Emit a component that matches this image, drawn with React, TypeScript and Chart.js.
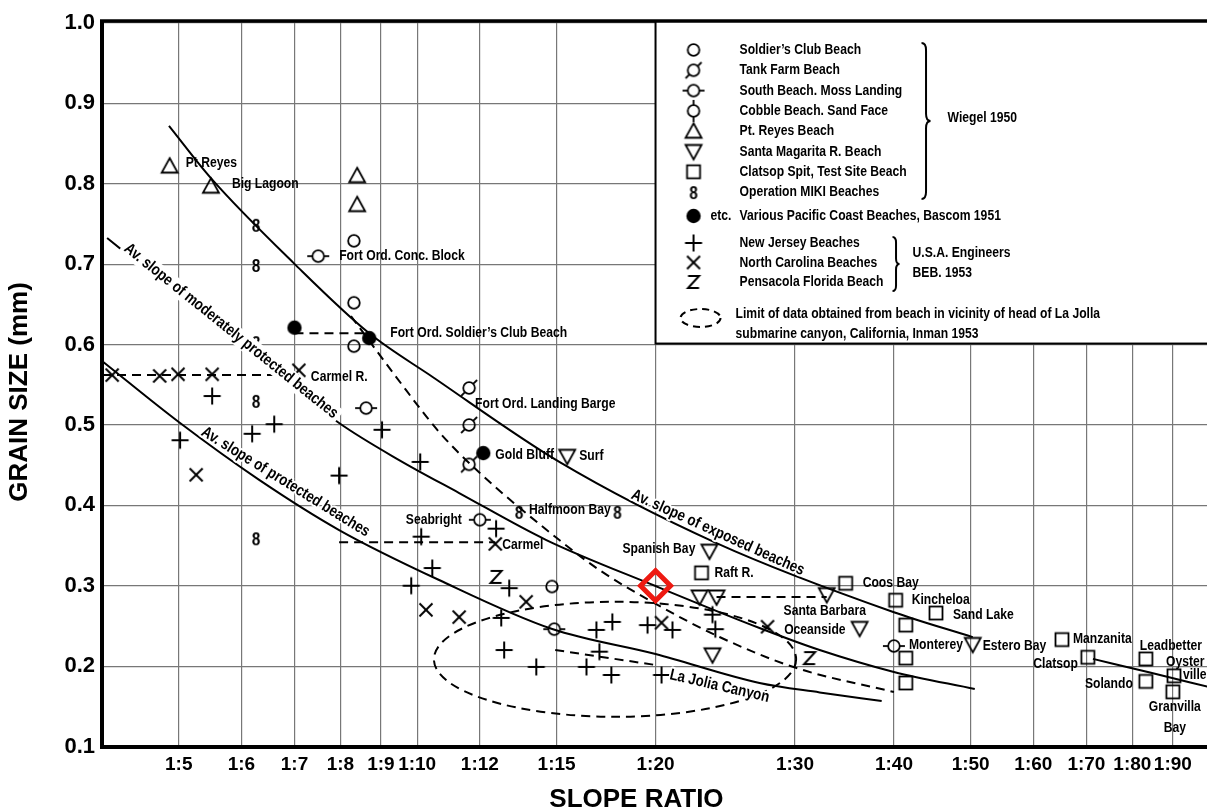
import { useEffect, useRef } from "react";
import { Chart, registerables } from "chart.js";

Chart.register(...registerables);

type Pt = [number, number];

// Axis ticks: slope ratio 1:n (log scale) and grain size in mm
const slopeTicks = [5, 6, 7, 8, 9, 10, 12, 15, 20, 30, 40, 50, 60, 70, 80, 90];
const grainTicks = [0.1, 0.2, 0.3, 0.4, 0.5, 0.6, 0.7, 0.8, 0.9, 1.0];

// Wiegel 1950
const soldiersClub: Pt[] = [[8.32, 0.729], [8.32, 0.652], [8.32, 0.598], [14.8, 0.299]];
const tankFarm: Pt[] = [[11.63, 0.546], [11.63, 0.5], [11.63, 0.451]];
const southBeach: Pt[] = [[7.5, 0.71], [8.62, 0.521], [12.0, 0.382], [14.9, 0.246], [40.0, 0.225]];
const ptReyes: Pt[] = [[4.87, 0.822], [5.49, 0.797], [8.4, 0.81], [8.4, 0.774]];
const santaMagarita: Pt[] = [
  [15.47, 0.461], [23.39, 0.343], [22.73, 0.286], [23.88, 0.286], [23.6, 0.214],
  [32.9, 0.289], [36.2, 0.247], [50.3, 0.227],
];
const clatsopSpit: Pt[] = [
  [22.86, 0.316], [34.76, 0.303], [40.2, 0.282], [45.2, 0.266], [41.4, 0.251], [41.4, 0.21],
  [41.4, 0.179], [65.2, 0.233], [70.3, 0.211], [83.2, 0.209], [83.2, 0.181], [90.3, 0.188], [90.0, 0.168],
];
const operationMiki: Pt[] = [[6.26, 0.749], [6.26, 0.699], [6.26, 0.603], [6.26, 0.53], [6.26, 0.359], [13.45, 0.392], [17.9, 0.392]];

// Bascom 1951
const bascom: Pt[] = [[7.0, 0.621], [8.7, 0.608], [12.12, 0.465]];

// U.S.A. Engineers, BEB 1953
const newJersey: Pt[] = [
  [5.51, 0.536], [6.6, 0.501], [6.19, 0.489], [5.02, 0.481], [9.03, 0.494], [10.09, 0.454], [7.97, 0.437],
  [10.12, 0.361], [10.45, 0.322], [9.83, 0.3], [12.58, 0.371], [13.07, 0.297], [12.77, 0.26], [12.88, 0.22],
  [14.14, 0.199], [16.84, 0.245], [17.64, 0.255], [19.54, 0.251], [21.01, 0.245], [16.99, 0.218], [16.36, 0.199],
  [17.59, 0.189], [20.35, 0.189], [23.6, 0.264], [23.8, 0.246],
];
const northCarolina: Pt[] = [
  [4.12, 0.562], [4.73, 0.561], [4.99, 0.563], [5.51, 0.563], [7.09, 0.568], [5.26, 0.438],
  [10.26, 0.27], [11.3, 0.261], [13.73, 0.28], [12.55, 0.352], [20.35, 0.254], [27.7, 0.249],
];
const pensacola: Pt[] = [[12.58, 0.311], [31.3, 0.21]];

// Average-slope curves
const exposedCurve: Pt[] = [
  [4.86, 0.872], [5.49, 0.807], [6.99, 0.701], [8.7, 0.614], [10.45, 0.56], [15.12, 0.454],
  [23.88, 0.353], [40.0, 0.267], [50.3, 0.236],
];
const exposedCurveTail: Pt[] = [[71.35, 0.209], [84.2, 0.192], [100, 0.174]];
const moderateCurve: Pt[] = [
  [4.06, 0.7325], [5.62, 0.6205], [7.97, 0.5024], [9.49, 0.4563], [11.3, 0.4153], [14.56, 0.3568],
  [20, 0.2996], [27.06, 0.2474], [32.23, 0.22], [40, 0.1927], [50.6, 0.1715],
];
const protectedCurve: Pt[] = [
  [4.0, 0.5795], [5.0, 0.5036], [6.31, 0.432], [7.97, 0.3693], [10.66, 0.3071], [14.81, 0.2461],
  [20, 0.215], [27.06, 0.179], [32.23, 0.1673], [38.6, 0.1566],
];
const soldiersClubTrend: Pt[] = [
  [8.25, 0.6354], [9.41, 0.5596], [10.66, 0.4912], [12.0, 0.4402], [15.12, 0.3568], [16.99, 0.3195],
  [19.82, 0.2797], [24.09, 0.2362], [30.14, 0.1976], [40, 0.1678],
];
const canyonLead: Pt[] = [[14.94, 0.22], [20, 0.2014]];
const fortOrdLink: Pt[] = [[7.0, 0.614], [8.7, 0.614]];
const carmelRLink: Pt[] = [[4.0, 0.562], [7.09, 0.562]];
const carmelLink: Pt[] = [[7.97, 0.354], [12.55, 0.354]];
const santaBarbaraLink: Pt[] = [[23.88, 0.286], [32.9, 0.286]];

// La Jolla limit of data (dashed ellipse): slope span and grain-size span
const laJollaLimitX = [10.5, 30.1];
const laJollaLimitY = [0.137, 0.28];

// Highlighted reading
const highlight: Pt = [20, 0.3];

type SiteLabel = { text: string; at: Pt; dx: number; dy: number; align: CanvasTextAlign };
const siteLabels: SiteLabel[] = [
  { text: "Pt Reyes", at: [4.87, 0.822], dx: 16, dy: -3, align: "left" },
  { text: "Big Lagoon", at: [5.49, 0.797], dx: 21, dy: -2, align: "left" },
  { text: "Fort Ord. Conc. Block", at: [7.5, 0.71], dx: 21, dy: 0, align: "left" },
  { text: "Fort Ord. Soldier\u2019s Club Beach", at: [8.7, 0.608], dx: 21, dy: -5, align: "left" },
  { text: "Carmel R.", at: [7.09, 0.568], dx: 12, dy: 7, align: "left" },
  { text: "Fort Ord. Landing Barge", at: [11.63, 0.546], dx: 6, dy: 16, align: "left" },
  { text: "Gold Bluff", at: [12.12, 0.465], dx: 12, dy: 2, align: "left" },
  { text: "Surf", at: [15.47, 0.461], dx: 12, dy: 0, align: "left" },
  { text: "Halfmoon Bay", at: [13.45, 0.392], dx: 10, dy: -2, align: "left" },
  { text: "Seabright", at: [12.0, 0.382], dx: -18, dy: 0, align: "right" },
  { text: "Carmel", at: [12.55, 0.352], dx: 7, dy: 1, align: "left" },
  { text: "Spanish Bay", at: [23.39, 0.343], dx: -14, dy: -2, align: "right" },
  { text: "Raft R.", at: [22.86, 0.316], dx: 13, dy: 0, align: "left" },
  { text: "Santa Barbara", at: [32.9, 0.289], dx: -2, dy: 16, align: "center" },
  { text: "Coos Bay", at: [34.76, 0.303], dx: 17, dy: 0, align: "left" },
  { text: "Kincheloa", at: [40.2, 0.282], dx: 16, dy: 0, align: "left" },
  { text: "Sand Lake", at: [45.2, 0.266], dx: 17, dy: 2, align: "left" },
  { text: "Oceanside", at: [36.2, 0.247], dx: -14, dy: 2, align: "right" },
  { text: "Monterey", at: [40.0, 0.225], dx: 15, dy: -1, align: "left" },
  { text: "Estero Bay", at: [50.3, 0.227], dx: 10, dy: 1, align: "left" },
  { text: "Manzanita", at: [65.2, 0.233], dx: 11, dy: -1, align: "left" },
  { text: "Clatsop", at: [70.3, 0.211], dx: -10, dy: 7, align: "right" },
  { text: "Leadbetter", at: [83.2, 0.209], dx: -6, dy: -13, align: "left" },
  { text: "Solando", at: [83.2, 0.181], dx: -13, dy: 2, align: "right" },
  { text: "Oyster", at: [90.3, 0.188], dx: -8, dy: -14, align: "left" },
  { text: "ville", at: [90.3, 0.188], dx: 9, dy: -1, align: "left" },
  { text: "Granvilla", at: [90.0, 0.168], dx: 2, dy: 15, align: "center" },
  { text: "Bay", at: [90.0, 0.168], dx: 2, dy: 36, align: "center" },
];

type CurveLabel = { text: string; at: Pt; angle: number; backed: boolean };
const curveLabels: CurveLabel[] = [
  { text: "Av. slope of moderately protected beaches", at: [5.82, 0.6168], angle: 38.8, backed: true },
  { text: "Av. slope of protected beaches", at: [6.82, 0.429], angle: 31.7, backed: false },
  { text: "Av. slope of exposed beaches", at: [23.97, 0.366], angle: 24.3, backed: false },
  { text: "La Jolia Canyon", at: [24.09, 0.175], angle: 13, backed: false },
];

const wiegelRows: [string, string][] = [
  ["circle", "Soldier\u2019s Club Beach"],
  ["slashCircle", "Tank Farm Beach"],
  ["hCircle", "South Beach. Moss Landing"],
  ["vCircle", "Cobble Beach. Sand Face"],
  ["triUp", "Pt. Reyes Beach"],
  ["triDown", "Santa Magarita R. Beach"],
  ["square", "Clatsop Spit, Test Site Beach"],
  ["eight", "Operation MIKI Beaches"],
];
const engineerRows: [string, string][] = [
  ["plus", "New Jersey Beaches"],
  ["cross", "North Carolina Beaches"],
  ["zee", "Pensacola Florida Beach"],
];

const FONT = "'Liberation Sans', Arial, Helvetica, sans-serif";

function makeSymbol(kind: string): HTMLCanvasElement {
  const c = document.createElement("canvas");
  c.width = 30;
  c.height = 30;
  const g = c.getContext("2d")!;
  g.translate(15, 15);
  g.strokeStyle = "#000";
  g.fillStyle = "#000";
  g.lineWidth = 1.8;
  const ring = () => {
    g.beginPath();
    g.arc(0, 0, 5.8, 0, Math.PI * 2);
    g.stroke();
  };
  const seg = (x1: number, y1: number, x2: number, y2: number) => {
    g.beginPath();
    g.moveTo(x1, y1);
    g.lineTo(x2, y2);
    g.stroke();
  };
  switch (kind) {
    case "circle":
      ring();
      break;
    case "slashCircle":
      ring();
      seg(4.1, -4.1, 8, -8);
      seg(-4.1, 4.1, -8, 8);
      break;
    case "hCircle":
      ring();
      seg(-11, 0, -5.8, 0);
      seg(5.8, 0, 11, 0);
      break;
    case "vCircle":
      ring();
      seg(0, -11, 0, -5.8);
      seg(0, 5.8, 0, 11);
      break;
    case "triUp":
      g.beginPath();
      g.moveTo(0, -8);
      g.lineTo(8, 6.5);
      g.lineTo(-8, 6.5);
      g.closePath();
      g.stroke();
      break;
    case "triDown":
      g.beginPath();
      g.moveTo(0, 8);
      g.lineTo(8, -6.5);
      g.lineTo(-8, -6.5);
      g.closePath();
      g.stroke();
      break;
    case "square":
      g.strokeRect(-6.5, -6.5, 13, 13);
      break;
    case "eight":
      g.save();
      g.scale(0.85, 1);
      g.font = `bold 18px ${FONT}`;
      g.textAlign = "center";
      g.textBaseline = "alphabetic";
      g.fillText("8", 0, 6.5);
      g.restore();
      break;
    case "dot":
      g.beginPath();
      g.arc(0, 0, 7.2, 0, Math.PI * 2);
      g.fill();
      break;
    case "plus":
      g.lineWidth = 2;
      seg(-8.5, 0, 8.5, 0);
      seg(0, -8.5, 0, 8.5);
      break;
    case "cross":
      g.lineWidth = 2;
      seg(-6.5, -6.5, 6.5, 6.5);
      seg(6.5, -6.5, -6.5, 6.5);
      break;
    case "zee":
      g.lineWidth = 2;
      g.beginPath();
      g.moveTo(-5.5, -6);
      g.lineTo(5.5, -6);
      g.lineTo(-5.5, 6);
      g.lineTo(5.5, 6);
      g.stroke();
      break;
  }
  return c;
}

function narrowText(
  ctx: CanvasRenderingContext2D,
  text: string,
  x: number,
  y: number,
  align: CanvasTextAlign,
  opts: { size?: number; squeeze?: number; angle?: number; halo?: boolean; backed?: boolean } = {}
) {
  const size = opts.size ?? 15;
  const squeeze = opts.squeeze ?? 0.81;
  ctx.save();
  ctx.translate(x, y);
  if (opts.angle) ctx.rotate((opts.angle * Math.PI) / 180);
  ctx.scale(squeeze, 1);
  ctx.font = `bold ${size}px ${FONT}`;
  ctx.textAlign = align;
  ctx.textBaseline = "middle";
  if (opts.backed) {
    const w = ctx.measureText(text).width;
    ctx.fillStyle = "#fff";
    ctx.fillRect(-w / 2 - 4, -size * 0.55, w + 8, size * 1.1);
  }
  if (opts.halo) {
    ctx.strokeStyle = "#fff";
    ctx.lineWidth = 4;
    ctx.lineJoin = "round";
    ctx.strokeText(text, 0, 0);
  }
  ctx.fillStyle = "#000";
  ctx.fillText(text, 0, 0);
  ctx.restore();
}

function brace(ctx: CanvasRenderingContext2D, x: number, y1: number, y2: number, w: number) {
  const m = (y1 + y2) / 2;
  const r = w / 2;
  ctx.beginPath();
  ctx.moveTo(x, y1);
  ctx.quadraticCurveTo(x + r, y1, x + r, y1 + r * 1.6);
  ctx.lineTo(x + r, m - r * 1.6);
  ctx.quadraticCurveTo(x + r, m, x + w, m);
  ctx.quadraticCurveTo(x + r, m, x + r, m + r * 1.6);
  ctx.lineTo(x + r, y2 - r * 1.6);
  ctx.quadraticCurveTo(x + r, y2, x, y2);
  ctx.stroke();
}

export default function App() {
  const canvasRef = useRef<HTMLCanvasElement | null>(null);

  useEffect(() => {
    const canvas = canvasRef.current;
    if (!canvas) return;

    const sym: Record<string, HTMLCanvasElement> = {};
    ["circle", "slashCircle", "hCircle", "vCircle", "triUp", "triDown", "square", "eight", "dot", "plus", "cross", "zee"].forEach(
      (k) => (sym[k] = makeSymbol(k))
    );

    const toXY = (pts: Pt[]) => pts.map(([x, y]) => ({ x, y }));

    const markers = (label: string, pts: Pt[], kind: string) => ({
      label,
      data: toXY(pts),
      showLine: false,
      pointStyle: sym[kind],
      pointRadius: 8,
      pointHoverRadius: 8,
    });

    const curve = (label: string, pts: Pt[], dashed: boolean, smooth: boolean) => ({
      label,
      data: toXY(pts),
      showLine: true,
      borderColor: "#000",
      borderWidth: 2,
      borderDash: dashed ? [9, 6] : [],
      pointRadius: 0,
      pointHoverRadius: 0,
      cubicInterpolationMode: smooth ? ("monotone" as const) : ("default" as const),
      tension: 0,
      fill: false,
    });

    const annotations = {
      id: "annotations",
      afterDatasetsDraw(chart: any) {
        const { ctx } = chart;
        const xs = chart.scales.x;
        const ys = chart.scales.y;
        const px = (v: number) => xs.getPixelForValue(v);
        const py = (v: number) => ys.getPixelForValue(v);
        ctx.save();
        ctx.beginPath();
        ctx.rect(chart.chartArea.left, chart.chartArea.top, chart.chartArea.right - chart.chartArea.left, chart.chartArea.bottom - chart.chartArea.top);
        ctx.clip();

        // dashed limit of La Jolla canyon data
        const l = px(laJollaLimitX[0]);
        const r = px(laJollaLimitX[1]);
        const t = py(laJollaLimitY[1]);
        const b = py(laJollaLimitY[0]);
        ctx.strokeStyle = "#000";
        ctx.lineWidth = 2;
        ctx.setLineDash([9, 6]);
        ctx.beginPath();
        ctx.ellipse((l + r) / 2, (t + b) / 2, (r - l) / 2, (b - t) / 2, 0, 0, Math.PI * 2);
        ctx.stroke();
        ctx.setLineDash([]);

        curveLabels.forEach((c) => {
          narrowText(ctx, c.text, px(c.at[0]), py(c.at[1]), "center", {
            size: 16,
            squeeze: 0.83,
            angle: c.angle,
            backed: c.backed,
            halo: !c.backed,
          });
        });

        siteLabels.forEach((s) => {
          narrowText(ctx, s.text, px(s.at[0]) + s.dx, py(s.at[1]) + s.dy, s.align);
        });
        ctx.restore();
      },
    };

    const legendBox = {
      id: "legendBox",
      afterDraw(chart: any) {
        const { ctx, chartArea } = chart;
        const xs = chart.scales.x;
        const ys = chart.scales.y;
        const L = xs.getPixelForValue(20);
        const T = chartArea.top;
        const B = ys.getPixelForValue(0.6) - 1;
        const R = chart.width + 4;
        ctx.save();
        ctx.fillStyle = "#fff";
        ctx.fillRect(L, T - 2, R - L, B - T + 2);
        ctx.strokeStyle = "#000";
        ctx.lineWidth = 2;
        ctx.strokeRect(L, T - 2, R - L, B - T + 2);

        const symX = L + 38;
        const textX = L + 84;
        const drawSym = (k: string, y: number) => {
          const s = sym[k];
          ctx.drawImage(s, symX - s.width / 2, y - s.height / 2);
        };
        wiegelRows.forEach(([k, text], i) => {
          const y = T + 27 + i * 20.3;
          drawSym(k, y);
          narrowText(ctx, text, textX, y, "left");
        });
        ctx.strokeStyle = "#000";
        ctx.lineWidth = 2;
        brace(ctx, L + 266, T + 20, T + 176, 9);
        narrowText(ctx, "Wiegel 1950", L + 292, T + 95, "left");

        drawSym("dot", T + 193);
        narrowText(ctx, "etc.", L + 55, T + 193, "left");
        narrowText(ctx, "Various Pacific Coast Beaches, Bascom 1951", textX, T + 193, "left");

        engineerRows.forEach(([k, text], i) => {
          const y = T + 220 + i * 19.5;
          drawSym(k, y);
          narrowText(ctx, text, textX, y, "left");
        });
        ctx.strokeStyle = "#000";
        ctx.lineWidth = 2;
        brace(ctx, L + 237, T + 214, T + 268, 7);
        narrowText(ctx, "U.S.A. Engineers", L + 257, T + 230, "left");
        narrowText(ctx, "BEB. 1953", L + 257, T + 250, "left");

        ctx.setLineDash([7, 5]);
        ctx.beginPath();
        ctx.ellipse(L + 45, T + 295, 20, 9, 0, 0, Math.PI * 2);
        ctx.stroke();
        ctx.setLineDash([]);
        narrowText(ctx, "Limit of data obtained from beach in vicinity of head of La Jolla", textX - 4, T + 291, "left");
        narrowText(ctx, "submarine canyon, California, Inman 1953", textX - 4, T + 311, "left");

        // heavy top frame line
        ctx.lineWidth = 3.5;
        ctx.beginPath();
        ctx.moveTo(chartArea.left - 2, T - 2);
        ctx.lineTo(chart.width, T - 2);
        ctx.stroke();
        ctx.restore();
      },
    };

    const tickFont = { family: FONT, weight: "bold" as const };

    const chart = new Chart(canvas, {
      type: "scatter",
      data: {
        datasets: [
          {
            label: "Highlight",
            data: [{ x: highlight[0], y: highlight[1] }],
            showLine: false,
            pointStyle: "rectRot",
            pointRadius: 15,
            pointHoverRadius: 15,
            borderColor: "#ee1a12",
            borderWidth: 5,
            backgroundColor: "rgba(0,0,0,0)",
          } as any,
          markers("Soldier's Club Beach", soldiersClub, "circle"),
          markers("Tank Farm Beach", tankFarm, "slashCircle"),
          markers("South Beach. Moss Landing", southBeach, "hCircle"),
          markers("Pt. Reyes Beach", ptReyes, "triUp"),
          markers("Santa Magarita R. Beach", santaMagarita, "triDown"),
          markers("Clatsop Spit, Test Site Beach", clatsopSpit, "square"),
          markers("Operation MIKI Beaches", operationMiki, "eight"),
          markers("Bascom 1951", bascom, "dot"),
          markers("New Jersey Beaches", newJersey, "plus"),
          markers("North Carolina Beaches", northCarolina, "cross"),
          markers("Pensacola Florida Beach", pensacola, "zee"),
          curve("Exposed beaches", exposedCurve, false, true),
          curve("Exposed beaches (tail)", exposedCurveTail, false, true),
          curve("Moderately protected beaches", moderateCurve, false, true),
          curve("Protected beaches", protectedCurve, false, true),
          curve("Soldier's Club trend", soldiersClubTrend, true, true),
          curve("La Jolla canyon", canyonLead, true, false),
          curve("Fort Ord", fortOrdLink, true, false),
          curve("Carmel R.", carmelRLink, true, false),
          curve("Carmel", carmelLink, true, false),
          curve("Santa Barbara", santaBarbaraLink, true, false),
        ] as any,
      },
      options: {
        responsive: false,
        animation: false,
        devicePixelRatio: 1,
        events: [],
        layout: { autoPadding: false, padding: { top: 23, right: 0, bottom: 0, left: 0 } },
        plugins: {
          legend: { display: false },
          tooltip: { enabled: false },
        },
        scales: {
          x: {
            type: "logarithmic",
            min: 4,
            max: 99.4,
            afterBuildTicks: (s: any) => {
              s.ticks = slopeTicks.map((v) => ({ value: v }));
            },
            afterFit: (s: any) => {
              s.height = 62.5;
              s.paddingLeft = 0;
              s.paddingRight = 0;
            },
            ticks: {
              autoSkip: false,
              maxRotation: 0,
              padding: 7,
              color: "#000",
              font: { ...tickFont, size: 19 },
              callback: (v: any) => "1:" + v,
            },
            grid: { color: "#777", lineWidth: 1.2, drawTicks: false },
            border: { display: true, color: "#000", width: 4 },
            title: {
              display: true,
              text: "SLOPE RATIO     ",
              color: "#000",
              font: { family: FONT, weight: "bold", size: 26, lineHeight: 1 },
              padding: { top: 0, bottom: -4 },
            },
          },
          y: {
            type: "linear",
            min: 0.1,
            max: 1.0,
            afterBuildTicks: (s: any) => {
              s.ticks = grainTicks.map((v) => ({ value: v }));
            },
            afterFit: (s: any) => {
              s.width = 102;
              s.paddingTop = 0;
              s.paddingBottom = 0;
            },
            ticks: {
              padding: 7,
              color: "#000",
              font: { ...tickFont, size: 22 },
              callback: (v: any) => Number(v).toFixed(1),
            },
            grid: { color: "#777", lineWidth: 1.2, drawTicks: false },
            border: { display: true, color: "#000", width: 4 },
            title: {
              display: true,
              text: "GRAIN SIZE (mm)  ",
              color: "#000",
              font: { family: FONT, weight: "bold", size: 26, lineHeight: 1 },
              padding: { top: 7, bottom: 0 },
            },
          },
        },
      } as any,
      plugins: [annotations, legendBox],
    });

    return () => chart.destroy();
  }, []);

  return (
    <div style={{ position: "absolute", left: 0, top: 0, width: 1207, height: 809, background: "#fff" }}>
      <canvas ref={canvasRef} width={1207} height={809} style={{ display: "block" }} />
    </div>
  );
}
